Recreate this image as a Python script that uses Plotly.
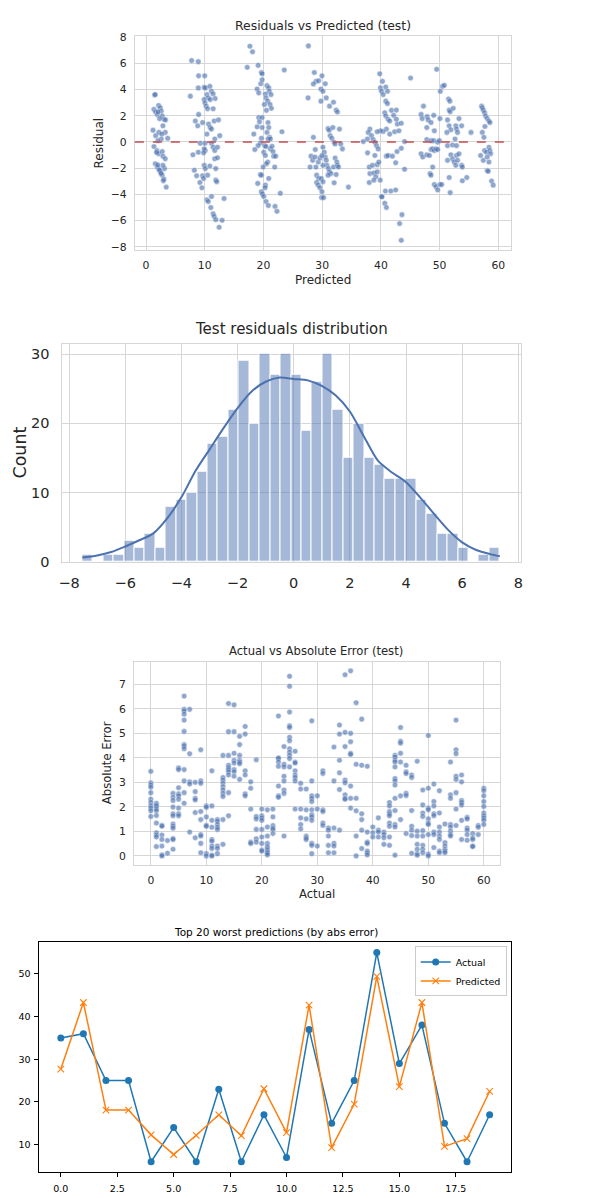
import numpy as np
import plotly.graph_objects as go

W, H = 590, 1198
FONT = "DejaVu Sans"
SNS_BLUE = "#4C72B0"

# ---------------- Plot 1 data: residuals vs predicted (pred, residual) ----------------
cluster_a = [(1.47,3.58),(1.55,3.62),(1.35,2.48),(1.64,2.28),(1.92,2.1),(2.15,2.78),(2.43,2.6),(2.6,2.35),
             (2.76,1.98),(3.05,1.73),(3.33,1.68),(2.31,1.78),(2.88,1.23),(3.27,0.73),(3.7,0.28),(1.19,0.9),
             (1.64,0.48),(2.2,0.73),(2.6,0.23),(2.03,0.1),(1.35,-0.35),(1.86,-0.65),(2.15,-0.9),(2.76,-0.73),
             (2.88,-1.08),(3.27,-1.28),(1.58,-1.66),(1.92,-1.91),(2.2,-2.08),(2.48,-2.28),(2.76,-2.53),
             (3.05,-2.83),(3.15,-2.03),(3.44,-3.44),(2.31,-2.16),(2.88,-1.78),(2.05,2.3),(2.0,-1.75),
             (2.55,-2.4),(2.95,-2.95),(1.8,-0.8),(2.7,0.6)]
cluster_b = [(7.77,6.2),(8.9,6.12),(8.96,5.04),(10.0,5.04),(7.55,3.49),(8.9,4.12),(9.9,4.17),(10.1,4.12),
             (10.87,4.24),(11.15,3.86),(11.43,3.66),(11.77,3.31),(10.37,3.61),(10.6,3.36),(10.93,3.23),
             (9.9,3.23),(10.03,2.98),(10.25,2.73),(10.48,2.53),(11.43,2.53),(8.96,2.1),(8.4,1.6),(8.8,1.23),
             (9.63,1.48),(10.65,1.36),(10.93,1.1),(11.15,0.98),(11.6,1.6),(12.34,1.68),(10.37,0.6),
             (11.71,0.23),(12.56,0.48),(9.24,-0.1),(10.03,-0.1),(11.15,-0.1),(11.43,-0.4),(11.71,-0.65),
             (10.08,-0.65),(9.91,-0.53),(12.17,-0.4),(7.99,-0.98),(8.9,-0.78),(9.8,-0.83),(11.7,-1.28),
             (12.17,-1.2),(9.91,-1.78),(10.1,-2.03),(10.87,-1.83),(8.23,-2.16),(8.62,-2.58),(9.63,-2.58),
             (9.8,-2.78),(10.48,-2.53),(11.88,-2.03),(11.88,-2.91),(12.05,-3.03),(9.18,-3.09),(9.52,-3.49),
             (10.37,-4.41),(10.6,-4.54),(11.15,-4.16),(11.04,-5.0),(11.43,-5.47),(11.6,-5.67),(11.88,-5.92),
             (12.96,-5.97),(12.45,-6.5),(13.29,-4.31)]
cluster_c = [(17.69,7.3),(18.14,6.87),(17.24,5.69),(19.09,5.84),(19.65,5.29),(19.77,5.19),(23.54,5.49),
             (19.54,4.44),(19.77,4.74),(20.6,4.29),(20.9,4.12),(21.0,3.86),(21.29,3.61),(18.92,4.04),
             (19.2,3.74),(20.33,3.66),(20.44,3.36),(20.72,3.11),(21.12,2.86),(21.35,2.56),(20.16,2.86),
             (20.5,2.41),(19.2,1.86),(19.77,1.86),(19.32,1.53),(19.77,1.1),(20.78,1.48),(20.9,1.1),
             (20.6,0.73),(21.05,0.35),(20.78,0.23),(21.17,0.23),(18.36,0.6),(18.92,1.15),(23.15,0.78),
             (19.65,0.28),(19.48,-0.08),(20.22,-0.28),(19.09,-0.28),(18.53,-0.58),(20.44,-0.35),
             (21.17,-0.53),(21.46,-0.33),(20.05,-0.78),(21.63,-0.73),(21.74,-1.08),(20.33,-1.03),
             (20.72,-1.53),(20.5,-1.66),(22.08,-1.08),(21.91,-1.91),(19.94,-1.91),(19.48,-2.48),
             (19.65,-2.53),(20.9,-2.78),(20.33,-3.29),(19.03,-3.16),(19.65,-3.79),(19.82,-3.96),
             (20.05,-4.16),(20.27,-3.49),(22.87,-3.91),(20.44,-4.54),(20.84,-4.84),(21.97,-4.91),(22.3,-5.29)]
cluster_d = [(27.65,7.32),(28.66,5.29),(28.94,4.62),(29.4,4.67),(28.5,4.42),(29.79,4.04),(27.6,3.36),
             (29.79,3.11),(28.5,0.35),(28.83,-0.58),(28.1,-1.08),(28.38,-1.4),(28.77,-1.15),(27.94,-1.91),
             (28.94,-1.91),(29.34,-1.53),(29.62,-1.23),(29.06,-2.53),(29.4,-2.78),(29.06,-3.09),
             (29.34,-3.29),(29.62,-3.49),(29.9,-4.24),(29.96,5.04),(30.52,4.44),(30.13,3.86),(30.69,3.36),
             (31.25,2.73),(31.93,3.03),(32.38,2.43),(32.6,2.28),(31.0,1.03),(31.2,0.9),(31.82,1.1),
             (32.94,0.98),(31.36,0.48),(31.65,0.28),(32.04,-0.02),(32.2,-0.15),(33.17,-0.15),(33.45,-0.53),
             (30.13,-0.4),(30.35,-0.78),(30.52,-1.15),(29.96,-1.03),(32.2,-1.23),(32.5,-1.53),(30.69,-1.4),
             (30.8,-1.78),(30.13,-1.78),(31.08,-2.03),(31.25,-2.28),(31.48,-2.41),(31.0,-2.53),(31.93,-1.91),
             (32.6,-1.78),(32.77,-1.91),(32.38,-2.48),(29.85,-2.78),(30.13,-3.03),(32.04,-3.11),
             (34.47,-3.44),(29.96,-3.79),(30.24,-4.24)]
cluster_e = [(39.8,5.19),(40.27,4.62),(39.93,4.12),(40.1,3.86),(40.83,4.19),(41.12,3.86),(40.38,3.61),
             (40.83,3.11),(41.12,2.93),(45.05,4.87),(40.66,2.23),(40.83,1.98),(41.23,1.73),(41.5,1.6),
             (41.8,2.41),(42.63,2.43),(42.18,2.03),(42.63,1.73),(42.8,1.36),(43.47,1.43),(40.94,0.98),
             (40.38,0.8),(39.93,0.85),(39.37,0.78),(41.5,0.6),(42.35,0.78),(43.07,0.85),(38.13,0.98),
             (37.85,0.73),(37.0,0.03),(37.7,0.23),(38.4,0.48),(38.69,0.18),(38.97,-0.02),(39.26,-0.28),
             (39.54,-0.53),(44.03,0.03),(37.73,-0.83),(38.97,-1.03),(38.02,-1.91),(38.58,-1.78),
             (39.37,-1.73),(39.65,-1.53),(40.94,-1.08),(41.23,-1.03),(41.96,-1.08),(42.75,-0.73),
             (43.47,-0.48),(42.52,-1.58),(44.03,-2.08),(38.13,-2.41),(38.8,-2.36),(39.14,-2.66),
             (38.02,-3.09),(38.8,-2.91),(39.88,-2.91),(39.37,-2.28),(40.1,-4.16),(40.18,-4.18),
             (40.66,-4.67),(40.94,-4.99),(40.77,-3.74),(41.69,-3.74),(42.52,-3.66),(43.59,-5.54),
             (43.19,-6.22),(43.47,-7.5)]
cluster_f = [(49.5,5.54),(47.25,2.73),(46.85,2.1),(47.03,1.78),(47.88,1.93),(48.05,1.68),(49.0,2.03),
             (47.82,1.1),(48.54,1.48),(49.1,0.85),(50.06,1.78),(47.82,0.18),(48.54,0.1),(49.0,0.1),
             (49.67,-0.02),(49.95,0.1),(46.85,-0.9),(47.13,-1.15),(47.82,-0.98),(48.26,-1.03),
             (48.54,-0.58),(48.82,-0.53),(49.1,-0.65),(49.39,-0.53),(49.67,-0.58),(48.82,-1.91),
             (48.37,-2.41),(48.54,-2.53),(49.1,-3.24),(49.39,-3.41),(49.67,-3.66),(50.06,-3.24),
             (50.35,-3.24),(50.12,3.86),(50.5,4.24),(50.8,4.32),(51.52,3.28),(51.75,3.11),(51.63,2.43),
             (51.8,2.31),(52.32,2.56),(51.35,1.68),(51.63,1.23),(51.92,0.93),(52.76,1.23),(52.88,0.98),
             (53.05,0.73),(53.3,1.78),(53.75,1.23),(51.24,0.73),(51.35,-0.28),(52.2,-0.23),(52.63,0.23),
             (52.88,-0.28),(51.35,-1.4),(51.92,-0.98),(52.2,-1.28),(52.48,-1.53),(52.88,-1.03),
             (53.05,-1.4),(53.3,-0.9),(53.75,-1.78),(53.87,-1.91),(52.76,-1.78),(51.63,-2.71),
             (51.8,-3.86),(53.87,-2.96),(54.63,-2.71),(55.35,0.73)]
cluster_g = [(57.15,2.73),(57.27,2.6),(57.44,2.43),(57.66,2.23),(57.83,1.98),(58.11,1.78),(58.4,1.6),
             (58.57,1.48),(57.72,1.18),(57.27,0.73),(57.55,0.35),(56.98,-1.03),(57.44,-1.4),(57.66,-0.65),
             (57.99,-0.78),(58.4,-0.4),(58.57,-0.65),(58.68,-0.9),(58.11,-1.15),(58.4,-1.53),(58.11,-2.18),
             (58.28,-2.23),(58.85,-2.98),(59.13,-3.29)]

# ---------------- Plot 2 data: histogram of residuals ----------------
hist_start, hist_end = -7.53, 7.34
hist_counts = [1, 0, 1, 1, 3, 2, 4, 2, 8, 9, 10, 13, 17, 18, 22, 29, 20, 30, 27, 30,
               27, 19, 26, 30, 22, 15, 20, 15, 14, 12, 12, 12, 9, 7, 4, 4, 2, 0, 1, 2]
kde_x = [-7.53, -7.0, -6.5, -6.0, -5.5, -5.0, -4.5, -4.0, -3.5, -3.0, -2.5, -2.0, -1.5, -1.0, -0.5,
         0.0, 0.5, 1.0, 1.5, 2.0, 2.5, 3.0, 3.5, 4.0, 4.5, 5.0, 5.5, 6.0, 6.5, 7.0, 7.34]
kde_y = [0.6, 0.9, 1.4, 2.2, 3.1, 4.1, 6.3, 9.3, 13.1, 16.2, 19.3, 22.2, 24.6, 26.0, 26.6,
         26.4, 26.2, 25.4, 24.0, 21.7, 18.1, 14.6, 12.9, 11.5, 9.3, 6.9, 4.6, 2.8, 1.7, 1.1, 0.8]

# ---------------- Plot 3 data: absolute error per actual value (index = actual) ----------------
abs_error_cols = [
    [3.45, 2.98, 2.89, 2.8, 2.58, 2.31, 2.18, 2.04, 1.95, 1.84, 1.61],
    [2.15, 2.08, 2.02, 1.92, 1.84, 1.65, 1.34, 0.94, 0.85, 0.77, 0.38],
    [1.25, 1.21, 0.85, 0.67, 0.4, 0.04, 0.0],
    [0.63, 0.11],
    [2.55, 2.39, 2.26, 1.99, 1.72, 1.64, 1.3, 1.21, 1.13, 0.71, 0.67, 0.27],
    [3.59, 3.52, 2.78, 2.53, 2.45, 2.31, 1.95, 1.72, 1.64],
    [6.52, 5.98, 5.91, 5.78, 5.54, 5.08, 4.54, 4.48, 4.37, 3.52, 3.06, 2.58, 2.15],
    [5.98, 4.17, 3.02, 2.93, 0.97],
    [3.0, 2.62, 2.35, 2.28, 1.77, 0.74],
    [4.33, 3.06, 2.96, 1.81, 1.48, 0.87, 0.81, 0.51, 0.13],
    [2.04, 1.98, 1.59, 1.25, 1.21, 0.09, 0.0],
    [3.47, 2.04, 1.45, 1.17, 0.67, 0.6, 0.4, 0.3, 0.03, 0.0],
    [1.48, 1.41, 1.28, 1.17, 1.08, 0.4, 0.3, 0.09],
    [4.1, 3.2, 3.09, 2.96, 2.82, 2.69, 2.55, 2.42, 1.48, 0.47],
    [6.22, 5.07, 4.1, 3.7, 3.6, 3.52, 3.43, 3.3, 2.58, 1.64],
    [6.16, 5.07, 4.19, 3.9, 3.79, 3.52, 3.43, 3.25],
    [4.88, 4.54, 4.1, 3.9, 3.83, 3.76, 3.12],
    [5.28, 4.97, 3.47, 3.3, 2.53, 2.45],
    [3.02, 2.76, 1.91, 0.56, 0.51],
    [3.92, 1.61, 1.51, 1.08, 0.7, 0.56],
    [1.91, 1.64, 1.55, 1.45, 1.08, 0.77, 0.51, 0.24, 0.2],
    [1.88, 1.18, 0.81, 0.51, 0.38, 0.3, 0.23, 0.16, 0.11, 0.04],
    [1.91, 1.59, 1.24, 1.14, 1.08, 0.91],
    [5.71, 4.0, 3.97, 3.83, 3.66, 2.85, 2.45, 2.39],
    [4.46, 3.74, 3.63, 3.25, 3.06, 2.69, 2.55, 0.81],
    [7.33, 6.92, 5.87, 5.31, 5.24, 4.84, 4.7, 4.37, 4.23, 4.1, 3.97, 3.63],
    [4.27, 3.83, 3.79, 3.47, 3.3, 3.2, 3.06, 1.91],
    [2.96, 2.73, 1.91, 1.55, 1.28, 1.1],
    [2.73, 1.88, 1.51, 0.81, 0.74, 0.67],
    [5.51, 3.06, 2.45, 2.35, 2.22, 1.88, 1.68, 1.59, 1.45, 0.51, 0.43, 0.09],
    [2.45, 1.91, 0.4],
    [3.47, 3.36, 1.88, 1.81, 1.34, 1.24],
    [1.14, 1.05, 0.81, 0.43, 0.13],
    [4.44, 3.06, 1.14, 0.51, 0.4, 0.13],
    [5.34, 4.97, 3.9, 3.39, 2.71, 1.05],
    [7.39, 5.04, 4.46, 3.09, 2.98, 2.49, 2.35, 2.31],
    [7.55, 5.0, 4.66, 4.19, 4.14, 2.85, 2.35, 1.95],
    [6.25, 3.74, 2.35, 1.84, 0.81, 0.0],
    [5.58, 3.7, 1.72, 1.48, 1.05, 0.3],
    [3.66, 0.97, 0.56, 0.51, 0.2, 0.13, 0.04],
    [1.18, 0.94, 0.77],
    [1.55, 1.05, 0.97, 0.77],
    [0.97, 0.87, 0.74, 0.47],
    [2.18, 2.04, 1.81, 1.72, 1.64, 1.34, 1.21, 0.77, 0.43],
    [4.1, 4.03, 3.9, 3.83, 3.63, 3.16, 3.06, 2.89, 2.35, 1.85, 1.28, 1.18, 0.03],
    [5.24, 4.68, 4.6, 4.19, 3.83, 2.45, 1.48],
    [3.7, 3.43, 3.36, 2.55, 2.46, 0.91],
    [3.3, 3.2, 1.85, 1.21, 1.05, 0.83, 0.11],
    [3.86, 1.01, 0.81, 0.47, 0.27, 0.09, 0.03],
    [2.69, 2.08, 1.75, 1.61, 1.03, 0.81, 0.43, 0.27, 0.13],
    [4.91, 2.76, 1.95, 1.88, 1.51, 1.34, 1.28, 0.87, 0.07, 0.0],
    [2.93, 2.22, 2.04, 1.72, 1.64, 0.97, 0.87, 0.34],
    [2.66, 1.75, 1.18, 0.97, 0.81, 0.67, 0.2, 0.13],
    [1.3, 0.54, 0.4, 0.27, 0.2, 0.13],
    [3.83, 2.49, 2.35, 1.28, 1.18, 1.01, 0.87, 0.81],
    [5.54, 4.33, 4.17, 3.25, 3.12, 2.58, 1.91, 1.24],
    [3.3, 3.02, 2.26, 2.18, 2.08, 1.45, 0.67],
    [1.57, 1.51, 1.14, 1.05, 0.87, 0.64],
    [0.91, 0.74, 0.67, 0.4, 0.38],
    [1.24, 1.17, 0.87],
    [2.76, 2.66, 2.45, 2.22, 2.02, 1.75, 1.64, 1.55, 1.45, 1.28],
]

# ---------------- Plot 4 data: top 20 worst predictions ----------------
worst_actual = [35, 36, 25, 25, 6, 14, 6, 23, 6, 17, 7, 37, 15, 25, 55, 29, 38, 15, 6, 17]
worst_pred = [27.7, 43.3, 18.1, 18.1, 12.3, 7.7, 12.2, 17.0, 12.1, 23.1, 12.8, 42.7, 9.3, 19.5,
              49.4, 23.6, 43.3, 9.6, 11.4, 22.5]

# ---------------- build ----------------
res_pts = cluster_a + cluster_b + cluster_c + cluster_d + cluster_e + cluster_f + cluster_g
res_x = [p for p, r in res_pts]
res_y = [r for p, r in res_pts]

nb = len(hist_counts)
bw = (hist_end - hist_start) / nb
hist_centers = [hist_start + bw * (i + 0.5) for i in range(nb)]

ae_x, ae_y = [], []
for a, errs in enumerate(abs_error_cols):
    for e in errs:
        ae_x.append(a)
        ae_y.append(e)


def fx(px):
    return px / W


def fy(py):
    return 1 - py / H


fig = go.Figure()

scatter_marker = dict(color=SNS_BLUE, size=5.6, opacity=0.62, line=dict(color="white", width=0.5))

fig.add_trace(go.Scatter(x=res_x, y=res_y, mode="markers", marker=scatter_marker,
                         xaxis="x", yaxis="y", showlegend=False))

fig.add_trace(go.Bar(x=hist_centers, y=hist_counts, width=bw,
                     marker=dict(color="rgba(76,114,176,0.5)", line=dict(color="white", width=1)),
                     xaxis="x2", yaxis="y2", showlegend=False))
fig.add_trace(go.Scatter(x=kde_x, y=kde_y, mode="lines", line=dict(color=SNS_BLUE, width=2, shape="spline", smoothing=0.8),
                         xaxis="x2", yaxis="y2", showlegend=False))

fig.add_trace(go.Scatter(x=ae_x, y=ae_y, mode="markers", marker=scatter_marker,
                         xaxis="x3", yaxis="y3", showlegend=False))

idx = list(range(len(worst_actual)))
fig.add_trace(go.Scatter(x=idx, y=worst_actual, mode="lines+markers", name="Actual",
                         line=dict(color="#1f77b4", width=1.5),
                         marker=dict(symbol="circle", size=7, color="#1f77b4"),
                         xaxis="x4", yaxis="y4"))
fig.add_trace(go.Scatter(x=idx, y=worst_pred, mode="lines+markers", name="Predicted",
                         line=dict(color="#ff7f0e", width=1.5),
                         marker=dict(symbol="x-thin", size=6.5, color="#ff7f0e", line=dict(color="#ff7f0e", width=1.1)),
                         xaxis="x4", yaxis="y4"))

grid = "#d6d6d6"


def sns_axis(**kw):
    d = dict(showgrid=True, gridcolor=grid, gridwidth=1, showline=True, mirror=True,
             linecolor=grid, linewidth=1.3, zeroline=False, ticks="",
             tickfont=dict(family=FONT, size=10.8, color="#262626"))
    d.update(kw)
    return d


fig.update_layout(
    width=W, height=H, autosize=False,
    margin=dict(l=0, r=0, t=0, b=0),
    paper_bgcolor="white", plot_bgcolor="white",
    font=dict(family=FONT, color="#262626"),
    xaxis=sns_axis(domain=[fx(133), fx(512)], range=[-1.9, 62.1], tickvals=[0, 10, 20, 30, 40, 50, 60],
                   anchor="y", ticklabelstandoff=5),
    yaxis=sns_axis(domain=[fy(246.7), fy(30.7)], range=[-8.22, 8.05], tickvals=list(range(-8, 9, 2)),
                   anchor="x", ticklabelstandoff=5),
    xaxis2=sns_axis(domain=[fx(59), fx(522)], range=[-8.27, 8.08], tickvals=list(range(-8, 9, 2)),
                    anchor="y2", tickfont=dict(family=FONT, size=14.5, color="#262626"), ticklabelstandoff=8),
    yaxis2=sns_axis(domain=[fy(562.3), fy(341.7)], range=[0, 31.5], tickvals=[0, 10, 20, 30],
                    anchor="x2", tickfont=dict(family=FONT, size=14.5, color="#262626"), ticklabelstandoff=8),
    xaxis3=sns_axis(domain=[fx(132.3), fx(501.7)], range=[-3, 63], tickvals=[0, 10, 20, 30, 40, 50, 60],
                    anchor="y3", ticklabelstandoff=5),
    yaxis3=sns_axis(domain=[fy(869.3), fy(663.3)], range=[-0.378, 7.93], tickvals=list(range(0, 8)),
                    anchor="x3", ticklabelstandoff=5),
    xaxis4=dict(domain=[fx(36.7), fx(512.4)], range=[-0.95, 19.95], anchor="y4",
                tickvals=[0, 2.5, 5, 7.5, 10, 12.5, 15, 17.5], tickformat=".1f",
                showgrid=False, zeroline=False, showline=True, mirror=True, linecolor="black", linewidth=0.9,
                ticks="outside", ticklen=4, tickwidth=0.9, tickcolor="black", ticklabelstandoff=3,
                tickfont=dict(family=FONT, size=9.5, color="black")),
    yaxis4=dict(domain=[fy(1180), fy(946.7)], range=[3.55, 57.55], anchor="x4",
                tickvals=[10, 20, 30, 40, 50],
                showgrid=False, zeroline=False, showline=True, mirror=True, linecolor="black", linewidth=0.9,
                ticks="outside", ticklen=4, tickwidth=0.9, tickcolor="black", ticklabelstandoff=2,
                tickfont=dict(family=FONT, size=9.5, color="black")),
    legend=dict(x=fx(508), y=fy(951.5), xanchor="right", yanchor="top",
                bgcolor="rgba(255,255,255,0.85)", bordercolor="#cccccc", borderwidth=1,
                font=dict(family=FONT, size=9.5, color="black"), tracegroupgap=0,
                itemwidth=30),
    bargap=0,
)

fig.add_shape(type="line", xref="x domain", yref="y", x0=0, x1=1, y0=0, y1=0,
              line=dict(color="#C44E52", width=1.5, dash="dash"))


def ann(text, px, py, size, angle=0, color="#262626"):
    fig.add_annotation(text=text, x=fx(px), y=fy(py), xref="paper", yref="paper",
                       showarrow=False, xanchor="center", yanchor="middle", textangle=angle,
                       font=dict(family=FONT, size=size, color=color))


ann("Residuals vs Predicted (test)", 322.5, 19.5, 12.4)
ann("Predicted", 322.5, 277.5, 12)
ann("Residual", 97, 139, 12, angle=-90)

ann("Test residuals distribution", 291, 326.5, 15)
ann("Count", 17, 452, 17.5, angle=-90)

ann("Actual vs Absolute Error (test)", 316, 653, 11.6)
ann("Actual", 317, 898, 11.6)
ann("Absolute Error", 105, 766, 11.6, angle=-90)

ann("Top 20 worst predictions (by abs error)", 275, 936.5, 10.5, color="black")

fig.write_html("out.html")
